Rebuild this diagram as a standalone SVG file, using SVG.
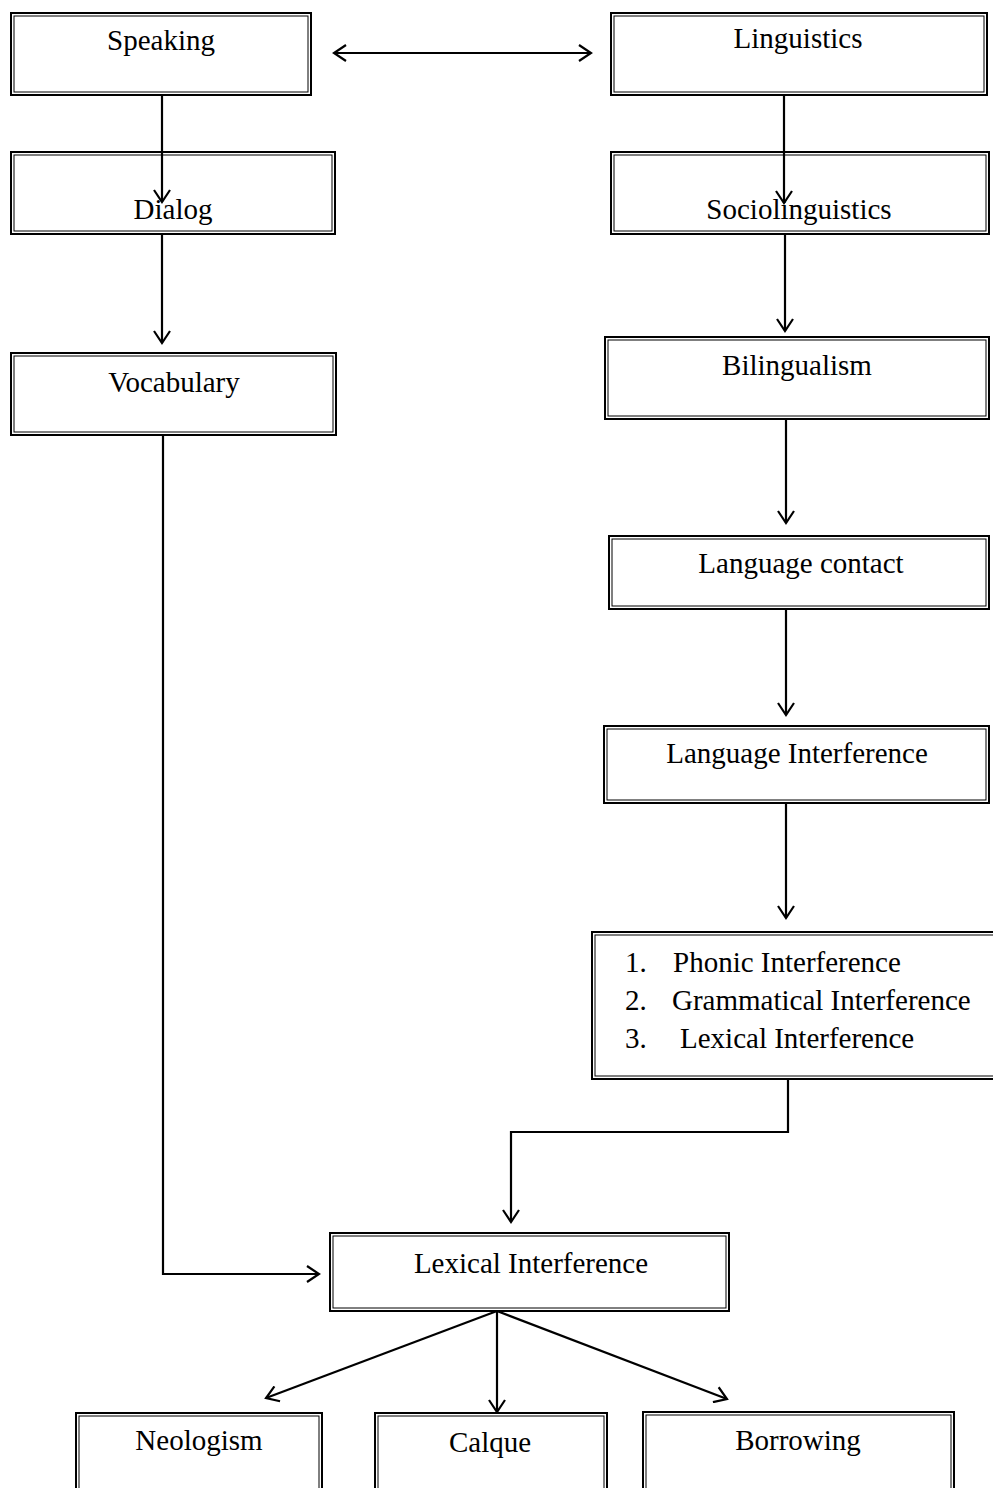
<svg xmlns="http://www.w3.org/2000/svg" width="993" height="1488" viewBox="0 0 993 1488">
<style>
.o{fill:#fff;stroke:#000;stroke-width:2}
.i{fill:none;stroke:#000;stroke-width:1}
text{font-family:"Liberation Serif","Times New Roman",serif;font-size:29px;fill:#000}
.c{text-anchor:middle}
.e{fill:none;stroke:#000;stroke-width:2.2}
</style>
<defs>
<marker id="ah" markerUnits="userSpaceOnUse" markerWidth="16" markerHeight="18" viewBox="-1 -9 15 18" refX="12" refY="0" orient="auto-start-reverse">
<path d="M0,-8 L12,0 L0,8" fill="none" stroke="#000" stroke-width="2.2"/>
</marker>
</defs>
<rect width="993" height="1488" fill="#fff"/>
<g id="speaking"><rect class="o" x="11" y="13" width="300" height="82"/><rect class="i" x="14" y="16" width="294" height="76"/><text class="c" x="161" y="50">Speaking</text></g>
<g id="linguistics"><rect class="o" x="611" y="13" width="376" height="82"/><rect class="i" x="614" y="16" width="370" height="76"/><text class="c" x="798" y="48">Linguistics</text></g>
<g id="dialog"><rect class="o" x="11" y="152" width="324" height="82"/><rect class="i" x="14" y="155" width="318" height="76"/><text class="c" x="173" y="219">Dialog</text></g>
<g id="sociolinguistics"><rect class="o" x="611" y="152" width="378" height="82"/><rect class="i" x="614" y="155" width="372" height="76"/><text class="c" x="799" y="219">Sociolinguistics</text></g>
<g id="vocabulary"><rect class="o" x="11" y="353" width="325" height="82"/><rect class="i" x="14" y="356" width="319" height="76"/><text class="c" x="174" y="392">Vocabulary</text></g>
<g id="bilingualism"><rect class="o" x="605" y="337" width="384" height="82"/><rect class="i" x="608" y="340" width="378" height="76"/><text class="c" x="797" y="375">Bilingualism</text></g>
<g id="language-contact"><rect class="o" x="609" y="536" width="380" height="73"/><rect class="i" x="612" y="539" width="374" height="67"/><text class="c" x="801" y="573">Language contact</text></g>
<g id="language-interference"><rect class="o" x="604" y="726" width="385" height="77"/><rect class="i" x="607" y="729" width="379" height="71"/><text class="c" x="797" y="763">Language Interference</text></g>
<g id="types"><rect class="o" x="592" y="932" width="410" height="147"/><rect class="i" x="595" y="935" width="404" height="141"/>
<text x="625" y="972">1.</text><text x="673" y="972">Phonic Interference</text>
<text x="625" y="1010">2.</text><text x="672" y="1010">Grammatical Interference</text>
<text x="625" y="1048">3.</text><text x="680" y="1048">Lexical Interference</text></g>
<g id="lexical-interference"><rect class="o" x="330" y="1233" width="399" height="78"/><rect class="i" x="333" y="1236" width="393" height="72"/><text class="c" x="531" y="1273">Lexical Interference</text></g>
<g id="neologism"><rect class="o" x="76" y="1413" width="246" height="90"/><rect class="i" x="79" y="1416" width="240" height="84"/><text class="c" x="199" y="1450">Neologism</text></g>
<g id="calque"><rect class="o" x="375" y="1413" width="232" height="90"/><rect class="i" x="378" y="1416" width="226" height="84"/><text class="c" x="490" y="1452">Calque</text></g>
<g id="borrowing"><rect class="o" x="643" y="1412" width="311" height="90"/><rect class="i" x="646" y="1415" width="305" height="84"/><text class="c" x="798" y="1450">Borrowing</text></g>
<g id="connectors">
<line class="e" x1="334" y1="53" x2="591" y2="53" marker-start="url(#ah)" marker-end="url(#ah)"/>
<line class="e" x1="162" y1="96" x2="162" y2="202" marker-end="url(#ah)"/>
<line class="e" x1="162" y1="235" x2="162" y2="343" marker-end="url(#ah)"/>
<line class="e" x1="784" y1="96" x2="784" y2="203" marker-end="url(#ah)"/>
<line class="e" x1="785" y1="235" x2="785" y2="331" marker-end="url(#ah)"/>
<line class="e" x1="786" y1="420" x2="786" y2="523" marker-end="url(#ah)"/>
<line class="e" x1="786" y1="610" x2="786" y2="715" marker-end="url(#ah)"/>
<line class="e" x1="786" y1="804" x2="786" y2="918" marker-end="url(#ah)"/>
<polyline class="e" points="788,1080 788,1132 511,1132 511,1222" marker-end="url(#ah)"/>
<polyline class="e" points="163,436 163,1274 319,1274" marker-end="url(#ah)"/>
<line class="e" x1="497" y1="1311" x2="266" y2="1398" marker-end="url(#ah)"/>
<line class="e" x1="497" y1="1311" x2="497" y2="1412" marker-end="url(#ah)"/>
<line class="e" x1="497" y1="1311" x2="727" y2="1399" marker-end="url(#ah)"/>
</g>
</svg>
